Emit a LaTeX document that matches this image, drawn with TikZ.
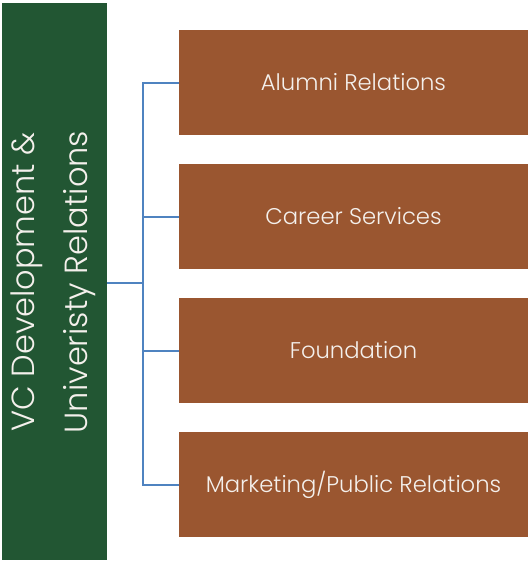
\documentclass[tikz,border=0pt]{standalone}
\usepackage{fontspec}
\setmainfont{Poppins}[UprightFont=* Light]
\usepackage{tikz}
\usepackage{xcolor}
\usetikzlibrary{positioning}

\definecolor{vcgreen}{HTML}{225633}
\definecolor{unitbrown}{HTML}{9A5630}
\definecolor{linkblue}{HTML}{4F83C0}
\definecolor{lighttext}{HTML}{F4F0EC}

\begin{document}
\begin{tikzpicture}[x=1pt, y=-1pt,
                head/.style={rectangle, fill=vcgreen, minimum width=105pt, minimum height=557pt, inner sep=0pt},
                unit/.style={rectangle, fill=unitbrown, minimum width=349pt, minimum height=105pt, inner sep=0pt,
                        text=lighttext, font=\fontsize{22.7}{27}\selectfont},
                link/.style={draw=linkblue, line width=2pt}]
                \useasboundingbox (0, 0) rectangle (530, 562);

                \node[head] (vc) at (54.5, 281.5) {};
                \node[rotate=90, align=center, text=lighttext, font=\fontsize{32}{53}\selectfont] (vctext) at (53, 282)
                        {VC Development \&\\Univeristy Relations};

                \node[unit] (alumni) at (353.5, 82.5) {Alumni Relations};
                \node[unit] (career) at (353.5, 216.5) {Career Services};
                \node[unit] (foundation) at (353.5, 350.5) {Foundation};
                \node[unit] (marketing) at (353.5, 484.5) {Marketing/Public Relations};

                \coordinate (bus) at (143, 283);

                \draw[link] (vc.east |- bus) -- (bus);
                \draw[link] (alumni.west) -| (bus);
                \draw[link] (career.west) -| (bus);
                \draw[link] (foundation.west) -| (bus);
                \draw[link] (marketing.west) -| (bus);
            \end{tikzpicture}
\end{document}
